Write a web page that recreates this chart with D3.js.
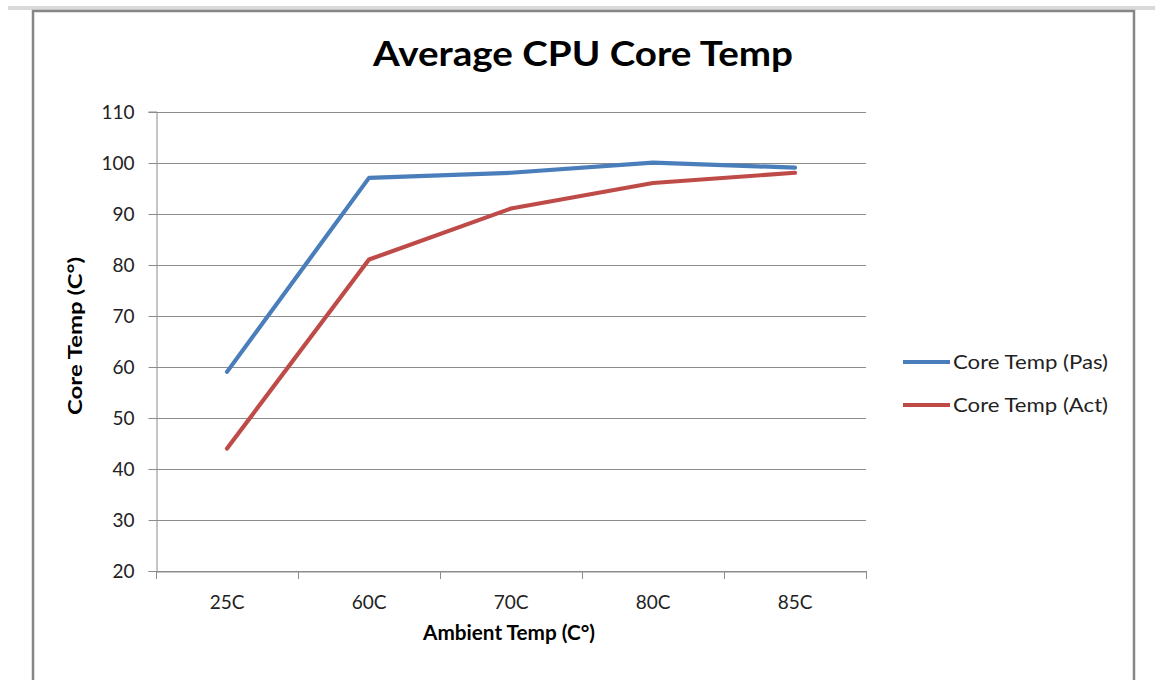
<!DOCTYPE html>
<html><head><meta charset="utf-8">
<script src="https://cdn.jsdelivr.net/npm/d3@7"></script>
<style>body{margin:0;background:#fff;}svg{display:block;}</style>
</head><body>
<script>
const categories = ["25C","60C","70C","80C","85C"];
const pasValues = [59, 97, 98, 100, 99];
const actValues = [44, 81, 91, 96, 98];
const yTicks = [20,30,40,50,60,70,80,90,100,110];
const seriesNames = ["Core Temp (Pas)", "Core Temp (Act)"];
const seriesColors = ["#4A7EBB", "#BE4B48"];
const titleText = "Average CPU Core Temp";
const xTitle = "Ambient Temp (C\u00B0)";
const yTitle = "Core Temp (C\u00B0)";

const W = 1155, H = 680;
const svg = d3.select("body").append("svg").attr("width", W).attr("height", H);
const font = "Lato, 'Liberation Sans', sans-serif";

// frame
svg.append("rect").attr("x", 8).attr("y", 6).attr("width", W - 8).attr("height", 4).attr("fill", "#d9d9d9");
svg.append("path").attr("d", "M33,680 V11 H1134 V680").attr("fill", "none").attr("stroke", "#868686").attr("stroke-width", 2.5);

const plot = {left: 156, right: 866, top: 111.5, bottom: 571};
const x = d3.scaleBand().domain(categories).range([plot.left, plot.right]);
const y = d3.scaleLinear().domain([20, 110]).range([plot.bottom, plot.top]);

// gridlines
svg.append("g").selectAll("line").data(yTicks).join("line")
  .attr("x1", plot.left).attr("x2", plot.right)
  .attr("y1", d => Math.round(y(d)) + 0.5).attr("y2", d => Math.round(y(d)) + 0.5)
  .attr("stroke", "#8c8c8c").attr("stroke-width", 1);

// y axis
const yAxis = svg.append("g").attr("transform", `translate(${plot.left + 0.5},0)`)
  .call(d3.axisLeft(y).tickValues(yTicks).tickSize(8).tickPadding(14));
yAxis.select(".domain").attr("stroke", "#8c8c8c");
yAxis.selectAll(".tick line").attr("stroke", "#8c8c8c");
yAxis.selectAll("text").attr("font-family", font).attr("font-size", 19).attr("fill", "#222");
yAxis.selectAll(".tick").attr("transform", d => `translate(0,${Math.round(y(d)) + 0.5})`);

// x axis
const xAxis = svg.append("g").attr("transform", `translate(0,${Math.round(plot.bottom) + 0.5})`)
  .call(d3.axisBottom(x).tickSize(0).tickPadding(24));
xAxis.select(".domain").attr("stroke", "#8c8c8c");
xAxis.selectAll("text").attr("font-family", font).attr("font-size", 19).attr("fill", "#222");
// category boundary ticks
const bounds = categories.map(c => x(c)).concat([plot.right]);
svg.append("g").selectAll("line").data(bounds).join("line")
  .attr("x1", d => Math.round(d) + 0.5).attr("x2", d => Math.round(d) + 0.5)
  .attr("y1", plot.bottom).attr("y2", plot.bottom + 8)
  .attr("stroke", "#8c8c8c");

// lines
const line = d3.line().x((d, i) => x(categories[i]) + x.bandwidth() / 2).y(d => y(d));
[pasValues, actValues].forEach((vals, k) => {
  svg.append("path").datum(vals).attr("d", line).attr("fill", "none")
    .attr("stroke", seriesColors[k]).attr("stroke-width", 4.2)
    .attr("stroke-linejoin", "round").attr("stroke-linecap", "round");
});

// title
svg.append("text").attr("x", 583).attr("y", 66).attr("text-anchor", "middle")
  .attr("font-family", font).attr("font-weight", "bold").attr("font-size", 34)
  .attr("textLength", 420).attr("lengthAdjust", "spacingAndGlyphs")
  .attr("fill", "#000").text(titleText);

// axis titles
svg.append("text").attr("x", 509).attr("y", 640).attr("text-anchor", "middle")
  .attr("font-family", font).attr("font-weight", "bold").attr("font-size", 20)
  .attr("textLength", 172).attr("lengthAdjust", "spacingAndGlyphs")
  .attr("fill", "#000").text(xTitle);
svg.append("text").attr("transform", "translate(82,336) rotate(-90)").attr("text-anchor", "middle")
  .attr("font-family", font).attr("font-weight", "bold").attr("font-size", 19.5)
  .attr("textLength", 158).attr("lengthAdjust", "spacingAndGlyphs")
  .attr("fill", "#000").text(yTitle);

// legend
const legY = [362, 405];
seriesNames.forEach((n, k) => {
  svg.append("line").attr("x1", 903).attr("x2", 950).attr("y1", legY[k]).attr("y2", legY[k])
    .attr("stroke", seriesColors[k]).attr("stroke-width", 4.2);
  svg.append("text").attr("x", 953).attr("y", legY[k] + 7)
    .attr("font-family", font).attr("font-size", 19)
    .attr("textLength", 155).attr("lengthAdjust", "spacingAndGlyphs")
    .attr("fill", "#222").text(n);
});
</script>
</body></html>
